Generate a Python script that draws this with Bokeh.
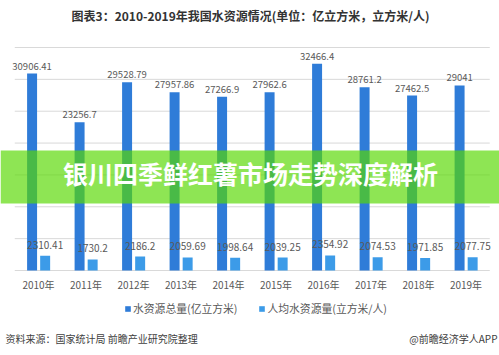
from bokeh.plotting import figure
from bokeh.models import (ColumnDataSource, Range1d, Legend, LegendItem, Label, BoxAnnotation)
from bokeh.transform import dodge
from bokeh.core.properties import value
from bokeh.embed import file_html
from bokeh.resources import INLINE

years = ["2010年", "2011年", "2012年", "2013年", "2014年", "2015年", "2016年", "2017年", "2018年", "2019年"]
total = [30906.41, 23256.7, 29528.79, 27957.86, 27266.9, 27962.6, 32466.4, 28761.2, 27462.5, 29041]
per_capita = [2310.41, 1730.2, 2186.2, 2059.69, 1998.64, 2039.25, 2354.92, 2074.53, 1971.85, 2077.75]
grid_ticks = [0, 5000, 10000, 15000, 20000, 25000, 30000, 35000]

def fmt(v):
    return ("%.2f" % v).rstrip("0").rstrip(".")

idx = list(range(len(years)))
src = ColumnDataSource(dict(
    idx=idx, year=years, total=total, per_capita=per_capita,
    zero=[0] * len(years),
    total_label=[fmt(v) for v in total], pc_label=[fmt(v) for v in per_capita],
))

FONT = "Noto Sans CJK SC"
W, H = 499, 355
# plot area in canvas pixels
PX_LEFT_CENTER, PX_STEP = 38.0, 47.5
PY_TOP, PY_BASE = 47.0, 270.0
YMAX = grid_ticks[-1]
u = YMAX / (PY_BASE - PY_TOP)

p = figure(width=W, height=H, output_backend="svg", toolbar_location=None,
           x_range=Range1d(-PX_LEFT_CENTER / PX_STEP, (W - PX_LEFT_CENTER) / PX_STEP),
           y_range=Range1d(-(H - PY_BASE) * u, PY_BASE * u),
           x_axis_location=None, y_axis_location=None, min_border=0)
p.outline_line_color = None
p.xgrid.visible = False
p.ygrid.visible = False

# horizontal grid lines (0 line doubles as the category axis line)
gsrc = ColumnDataSource(dict(y=grid_ticks, x0=[-0.5] * len(grid_ticks),
                             x1=[len(years) - 0.5] * len(grid_ticks)))
p.segment(x0="x0", x1="x1", y0="y", y1="y", source=gsrc, line_color="#D9D9D9", line_width=1)

r1 = p.vbar(x=dodge("idx", -0.135), top="total", width=0.21, source=src,
            fill_color="#2F7CD8", line_color=None)
r2 = p.vbar(x=dodge("idx", 0.14), top="per_capita", width=0.21, source=src,
            fill_color="#3C9BE8", line_color=None)

p.text(x=dodge("idx", -0.135), y="total", text="total_label", source=src,
       y_offset=-4, text_align="center", text_baseline="bottom", text_font=value(FONT),
       text_font_size="9.5px", text_color="#595959")
p.text(x=dodge("idx", 0.14), y="per_capita", text="pc_label", source=src,
       y_offset=-7, text_align="center", text_baseline="bottom", text_font=value(FONT),
       text_font_size="10px", text_color="#595959")

# category labels
p.text(x="idx", y="zero", text="year", source=src, y_offset=6,
       text_align="center", text_baseline="top", text_font=value(FONT),
       text_font_size="10px", text_color="#595959")

legend = Legend(items=[LegendItem(label="水资源总量(亿立方米)", renderers=[r1]),
                       LegendItem(label="人均水资源量(立方米/人)", renderers=[r2])],
                orientation="horizontal", location=(124, 39))
legend.label_text_font = FONT
legend.label_text_font_size = "10.8px"
legend.label_text_color = "#595959"
legend.glyph_width = 7
legend.glyph_height = 7
legend.label_height = 12
legend.label_standoff = 2
legend.spacing = 21
legend.padding = 0
legend.margin = 0
legend.border_line_color = None
legend.background_fill_alpha = 0
p.add_layout(legend)

p.add_layout(Label(x=250, y=H - 15, x_units="screen", y_units="screen",
                   text="图表3：2010-2019年我国水资源情况(单位：亿立方米，立方米/人)",
                   text_align="center", text_baseline="middle", text_font=FONT,
                   text_font_size="12px", text_font_style="bold", text_color="#333333"))

p.add_layout(BoxAnnotation(left=0, right=W, top=H - 150, bottom=H - 203,
                           left_units="screen", right_units="screen",
                           top_units="screen", bottom_units="screen",
                           fill_color="#57D800", fill_alpha=0.67, line_color=None))
p.add_layout(Label(x=250, y=H - 172, x_units="screen", y_units="screen",
                   text="银川四季鲜红薯市场走势深度解析",
                   text_align="center", text_baseline="middle", text_font=FONT,
                   text_font_size="25px", text_font_style="bold", text_color="white"))

p.add_layout(Label(x=5, y=H - 338, x_units="screen", y_units="screen",
                   text="资料来源：国家统计局 前瞻产业研究院整理",
                   text_align="left", text_baseline="middle", text_font=FONT,
                   text_font_size="10px", text_color="#404040"))
p.add_layout(Label(x=W - 2, y=H - 338, x_units="screen", y_units="screen",
                   text="@前瞻经济学人APP",
                   text_align="right", text_baseline="middle", text_font=FONT,
                   text_font_size="10px", text_color="#404040"))

open("out.html", "w").write(file_html(p, INLINE))
